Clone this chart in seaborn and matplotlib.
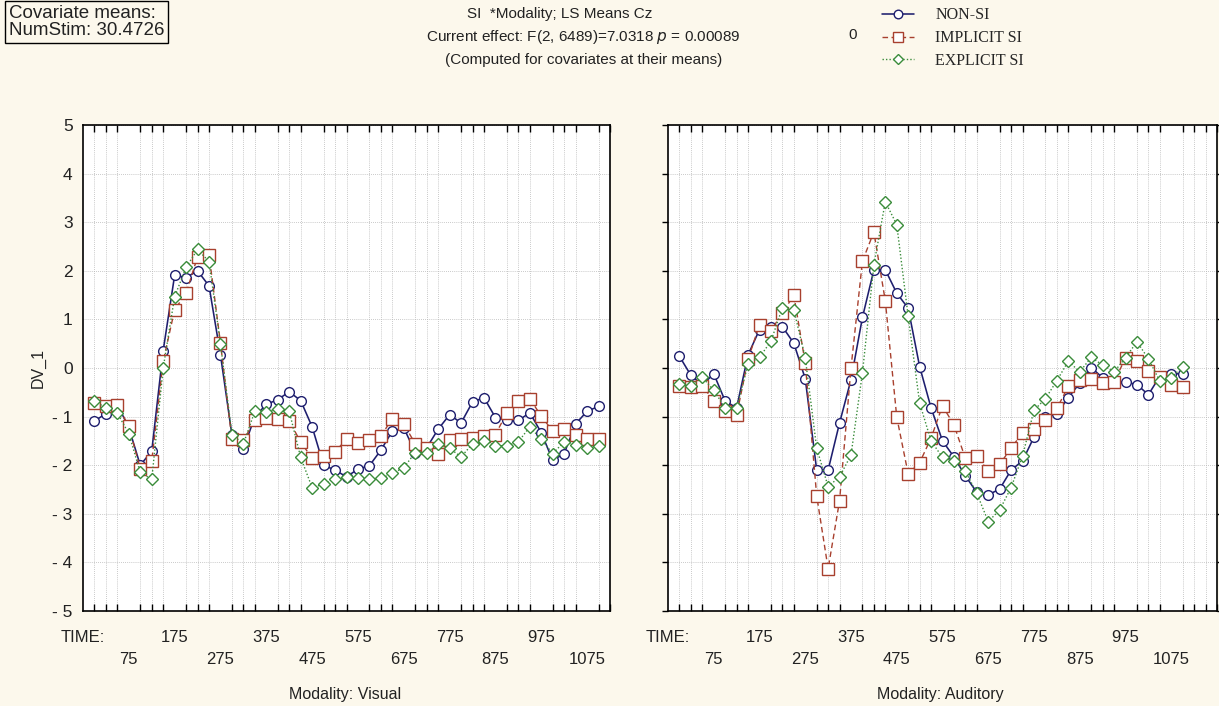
import numpy as np
import pandas as pd
import matplotlib
matplotlib.use("Agg")
import matplotlib.pyplot as plt
import seaborn as sns
from matplotlib.ticker import MultipleLocator, FixedLocator, FixedFormatter
from matplotlib.lines import Line2D

# ---------------- data ----------------
times = list(range(0, 1101, 25))

vis_non = [-1.09, -0.94, -0.75, -1.23, -2.0, -1.71, 0.36, 1.91, 1.86, 2.0, 1.69, 0.27,
           -1.38, -1.67, -1.0, -0.75, -0.65, -0.49, -0.67, -1.21, -2.0, -2.1, -2.24, -2.08,
           -2.01, -1.69, -1.3, -1.23, -1.74, -1.64, -1.26, -0.96, -1.13, -0.7, -0.61, -1.02,
           -1.06, -1.08, -0.92, -1.33, -1.9, -1.76, -1.15, -0.89, -0.79]
vis_imp = [-0.72, -0.78, -0.77, -1.2, -2.08, -1.91, 0.14, 1.2, 1.54, 2.29, 2.33, 0.51,
           -1.47, -1.49, -1.08, -1.02, -1.04, -1.09, -1.52, -1.86, -1.81, -1.72, -1.47, -1.54,
           -1.49, -1.4, -1.04, -1.15, -1.56, -1.64, -1.76, -1.49, -1.47, -1.45, -1.4, -1.37,
           -0.92, -0.68, -0.63, -0.99, -1.3, -1.26, -1.37, -1.47, -1.47]
vis_exp = [-0.68, -0.82, -0.93, -1.35, -2.15, -2.29, 0.0, 1.47, 2.07, 2.44, 2.19, 0.5,
           -1.37, -1.56, -0.89, -0.9, -0.84, -0.89, -1.84, -2.46, -2.39, -2.29, -2.25, -2.27,
           -2.29, -2.27, -2.17, -2.05, -1.74, -1.74, -1.56, -1.65, -1.83, -1.56, -1.5, -1.6,
           -1.6, -1.52, -1.21, -1.47, -1.76, -1.52, -1.58, -1.64, -1.6]

aud_non = [0.24, -0.15, -0.35, -0.12, -0.68, -0.82, 0.27, 0.79, 0.85, 0.85, 0.51, -0.22,
           -2.1, -2.1, -1.13, -0.24, 1.04, 2.02, 2.02, 1.54, 1.23, 0.03, -0.82, -1.5,
           -1.83, -2.22, -2.56, -2.61, -2.49, -2.1, -1.91, -1.42, -1.01, -0.94, -0.61, -0.31,
           0.01, -0.2, -0.29, -0.29, -0.34, -0.55, -0.17, -0.12, -0.12]
aud_imp = [-0.37, -0.39, -0.37, -0.67, -0.89, -0.97, 0.18, 0.89, 0.77, 1.13, 1.5, 0.1,
           -2.63, -4.13, -2.73, 0.0, 2.2, 2.8, 1.38, -1.01, -2.18, -1.95, -1.44, -0.78,
           -1.17, -1.86, -1.81, -2.12, -1.98, -1.65, -1.33, -1.26, -1.08, -0.83, -0.38, -0.24,
           -0.22, -0.31, -0.29, 0.21, 0.15, -0.07, -0.19, -0.34, -0.4]
aud_exp = [-0.33, -0.37, -0.19, -0.46, -0.82, -0.83, 0.08, 0.22, 0.55, 1.24, 1.2, 0.21,
           -1.65, -2.44, -2.24, -1.79, -0.1, 2.12, 3.42, 2.95, 1.06, -0.72, -1.5, -1.84,
           -1.91, -2.12, -2.58, -3.16, -2.92, -2.46, -1.81, -0.87, -0.63, -0.26, 0.14, -0.08,
           0.22, 0.06, -0.08, 0.21, 0.54, 0.19, -0.27, -0.2, 0.03]

series_names = ["NON-SI", "IMPLICIT SI", "EXPLICIT SI"]
xlabel_times = [-25, 75, 175, 275, 375, 475, 575, 675, 775, 875, 975, 1075]
xlabel_texts = ["TIME:", "75", "175", "275", "375", "475", "575", "675", "775", "875", "975", "1075"]
ytick_vals = [-5, -4, -3, -2, -1, 0, 1, 2, 3, 4, 5]
panel_titles = ["Modality: Visual", "Modality: Auditory"]

# ---------------- style ----------------
sns.set_theme(style="white")
plt.rcParams['font.family'] = ['Liberation Sans', 'DejaVu Sans']

BG = "#FCF8EC"
NAVY = "#1E1E6E"
RED = "#A8402E"
GREEN = "#3A8C3A"
TXT = "#222222"
styles = {
    "NON-SI": dict(color=NAVY, marker="o", ls="-", ms=7.0, lw=1.15),
    "IMPLICIT SI": dict(color=RED, marker="s", ls=(0, (4, 2.5)), ms=8.0, lw=1.0),
    "EXPLICIT SI": dict(color=GREEN, marker="D", ls=(0, (1, 1.5)), ms=6.3, lw=1.0),
}

W, H = 1219, 706
fig = plt.figure(figsize=(W / 100, H / 100), dpi=100, facecolor=BG)
ax1 = fig.add_axes([83 / W, 1 - 611 / H, 527 / W, 486 / H])
ax2 = fig.add_axes([668 / W, 1 - 611 / H, 549 / W, 486 / H])

panels = [
    (ax1, [vis_non, vis_imp, vis_exp], (-25, 1125)),
    (ax2, [aud_non, aud_imp, aud_exp], (-25, 1175)),
]

for k, (ax, data, xl) in enumerate(panels):
    ax.set_facecolor("white")
    for name, vals in zip(series_names, data):
        st = styles[name]
        sns.lineplot(x=times, y=vals, ax=ax, color=st["color"], marker=st["marker"],
                     linestyle=st["ls"], lw=st["lw"], markersize=st["ms"],
                     markerfacecolor="white", markeredgecolor=st["color"],
                     markeredgewidth=1.0, zorder=3)
    ax.set_xlim(*xl)
    ax.set_ylim(-5, 5)
    ax.xaxis.set_minor_locator(MultipleLocator(25))
    ax.xaxis.set_major_locator(FixedLocator(xlabel_times))
    labs = [t if i % 2 == 0 else "\n" + t for i, t in enumerate(xlabel_texts)]
    ax.xaxis.set_major_formatter(FixedFormatter(labs))
    ax.tick_params(axis="x", which="major", length=0, labelsize=12, pad=14, colors=TXT)
    for lab in ax.get_xticklabels():
        lab.set_linespacing(1.55)
    ax.tick_params(axis="x", which="minor", direction="in", length=5, width=1.0,
                   top=True, bottom=True, color="black")
    ax.grid(True, which="minor", axis="x", color="#b8b8b8", lw=0.6, ls=(0, (1, 1.5)))
    ax.set_yticks(ytick_vals)
    ax.grid(True, which="major", axis="y", color="#b8b8b8", lw=0.6, ls=(0, (1, 1.5)))
    ax.tick_params(axis="y", which="major", direction="out", length=4, width=1.0,
                   color="black", labelsize=12.5, labelcolor=TXT)
    if k == 0:
        ax.set_yticklabels([("- %d" % -v) if v < 0 else str(v) for v in ytick_vals])
        ax.set_ylabel("DV_1", fontsize=11.5, labelpad=5, color=TXT)
    else:
        ax.set_yticklabels([])
        ax.tick_params(axis="y", which="major", left=True, right=True)
        ax.set_ylabel("")
    ax.set_xlabel("")
    for sp in ax.spines.values():
        sp.set_color("black")
        sp.set_linewidth(1.2)
    if ax.get_legend() is not None:
        ax.get_legend().remove()

fig.text(345 / W, 1 - 695 / H, panel_titles[0], ha="center", va="center", fontsize=11.5, color=TXT)
fig.text(940 / W, 1 - 695 / H, panel_titles[1], ha="center", va="center", fontsize=11.5, color=TXT)

# header text
fig.text(560 / W, 1 - 14 / H, "SI  *Modality; LS Means Cz", ha="center", va="center", fontsize=11, color=TXT)
fig.text(583 / W, 1 - 37 / H, "Current effect: F(2, 6489)=7.0318 $p$ = 0.00089", ha="center", va="center",
         fontsize=11, color=TXT)
fig.text(584 / W, 1 - 60 / H, "(Computed for covariates at their means)", ha="center", va="center",
         fontsize=11, color=TXT)
fig.text(853 / W, 1 - 35 / H, "0", ha="center", va="center", fontsize=11, color=TXT)

fig.text(9 / W, 1 - 22 / H, "Covariate means:\nNumStim: 30.4726", ha="left", va="center",
         fontsize=13.5, color=TXT, linespacing=1.0,
         bbox=dict(boxstyle="square,pad=0.2", fc=BG, ec="black", lw=1.0))

handles = []
for name in series_names:
    st = styles[name]
    handles.append(Line2D([0], [0], color=st["color"], marker=st["marker"], ls=st["ls"], lw=st["lw"],
                          markersize=st["ms"] - 0.8, markerfacecolor="white",
                          markeredgecolor=st["color"]))
fig.legend(handles, series_names, loc="upper left", bbox_to_anchor=(876 / W, 1 - 1 / H),
           frameon=False, prop={"family": "Liberation Serif", "size": 11.5},
           handlelength=2.0, handletextpad=1.3, labelspacing=0.42, borderaxespad=0)

fig.savefig("out.png", dpi=100, facecolor=BG)
